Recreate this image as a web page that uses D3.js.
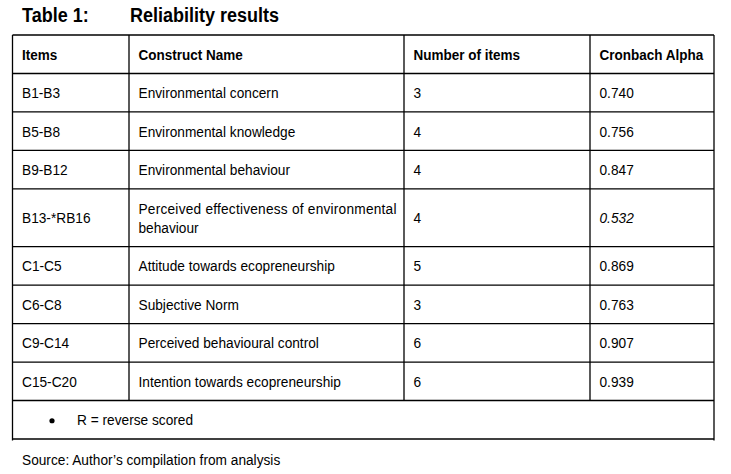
<!DOCTYPE html>
<html>
<head>
<meta charset="utf-8">
<script src="https://cdn.jsdelivr.net/npm/d3@7"></script>
<style>
  body { margin: 0; background: #fff; }
  text { font-family: "Liberation Sans", Arial, sans-serif; fill: #000; }
</style>
</head>
<body>
<div id="chart"></div>
<script>
// table content
var headers = ["Items", "Construct Name", "Number of items", "Cronbach Alpha"];
var items = ["B1-B3", "B5-B8", "B9-B12", "B13-*RB16", "C1-C5", "C6-C8", "C9-C14", "C15-C20"];
var constructs = [
  ["Environmental concern"],
  ["Environmental knowledge"],
  ["Environmental behaviour"],
  ["Perceived effectiveness of environmental", "behaviour"],
  ["Attitude towards ecopreneurship"],
  ["Subjective Norm"],
  ["Perceived behavioural control"],
  ["Intention towards ecopreneurship"]
];
var numItems = [3, 4, 4, 4, 5, 3, 6, 6];
var alphas = ["0.740", "0.756", "0.847", "0.532", "0.869", "0.763", "0.907", "0.939"];
var noteText = "R = reverse scored";
var titleLabel = "Table 1:";
var titleText = "Reliability results";
var sourceText = "Source: Author\u2019s compilation from analysis";

var width = 731, height = 474;
var italicAlpha = "0.532";
var stretch = 1.08; // glyphs in the reference are a touch taller than Arial

var svg = d3.select("#chart").append("svg")
  .attr("width", width)
  .attr("height", height);

// helper: put a text at x, baseline y, slightly stretched vertically
function addText(x, y, str, size, weight) {
  return svg.append("text")
    .attr("transform", "translate(" + x + "," + y + ") scale(1," + stretch + ")")
    .style("font-size", size)
    .style("font-weight", weight || "normal")
    .text(str);
}

// row heights in units: header, data rows (two-line rows are taller), note
var rows = [{ kind: "header", units: 1 }];
items.forEach(function (d, i) {
  rows.push({ kind: "data", i: i, units: constructs[i].length > 1 ? 1.5 : 1 });
});
rows.push({ kind: "note", units: 1 });

var cum = 0;
rows.forEach(function (r) { r.start = cum; cum += r.units; r.end = cum; });

var y = d3.scaleLinear().domain([0, cum]).range([35, 439]);

// column edges
var x = d3.scaleLinear().domain([0, 4]).range([12.5, 714]);
var colEdges = [12.5, 129, 404, 590, 714];
var pad = 9.5;

// title
addText(22, 22, titleLabel, "18px", "bold");
addText(130, 22, titleText, "18px", "bold");

var grid = svg.append("g")
  .attr("stroke", "#000")
  .attr("stroke-width", 1.3)
  .attr("fill", "none");

// horizontal lines
var hEdges = [0].concat(rows.map(function (r) { return r.end; }));
grid.selectAll("line.h")
  .data(hEdges)
  .join("line")
  .attr("class", "h")
  .attr("x1", x(0)).attr("x2", x(4))
  .attr("y1", function (d) { return y(d); })
  .attr("y2", function (d) { return y(d); });

// vertical lines (inner ones stop above the note row)
var noteTop = rows[rows.length - 1].start;
grid.selectAll("line.v")
  .data(colEdges)
  .join("line")
  .attr("class", "v")
  .attr("x1", function (d) { return d; })
  .attr("x2", function (d) { return d; })
  .attr("y1", y(0))
  .attr("y2", function (d, i) { return (i === 0 || i === 4) ? y(cum) + 1.5 : y(noteTop); });

// header text
headers.forEach(function (h, i) {
  addText(colEdges[i] + pad, (y(0) + y(1)) / 2 + 5.5, h, "13.5px", "bold");
});

// data rows
var dataRows = rows.filter(function (r) { return r.kind === "data"; });
var fs = "13.7px";

dataRows.forEach(function (r) {
  var i = r.i;
  var mid = (y(r.start) + y(r.end)) / 2;
  var base = mid + 5.6;

  addText(colEdges[0] + pad, base, items[i], fs);

  var lines = constructs[i];
  var lh = 19;
  lines.forEach(function (line, k) {
    var t = addText(colEdges[1] + pad, base - (lines.length - 1) * lh / 2 + k * lh, line, fs);
    if (lines.length > 1 && k < lines.length - 1) {
      // justified line
      t.attr("textLength", colEdges[2] - colEdges[1] - pad - 7.5)
        .attr("lengthAdjust", "spacing");
    }
  });

  addText(colEdges[2] + pad, base, numItems[i], fs);

  addText(colEdges[3] + pad, base, alphas[i], fs)
    .style("font-style", alphas[i] === italicAlpha ? "italic" : "normal");
});

// note row
var noteRow = rows[rows.length - 1];
var noteMid = (y(noteRow.start) + y(noteRow.end)) / 2;
svg.append("circle")
  .attr("cx", 52).attr("cy", noteMid + 1)
  .attr("r", 2.6)
  .attr("fill", "#000");
addText(77, noteMid + 5.6, noteText, fs);

// source
addText(22, 464.5, sourceText, fs);
</script>
</body>
</html>
